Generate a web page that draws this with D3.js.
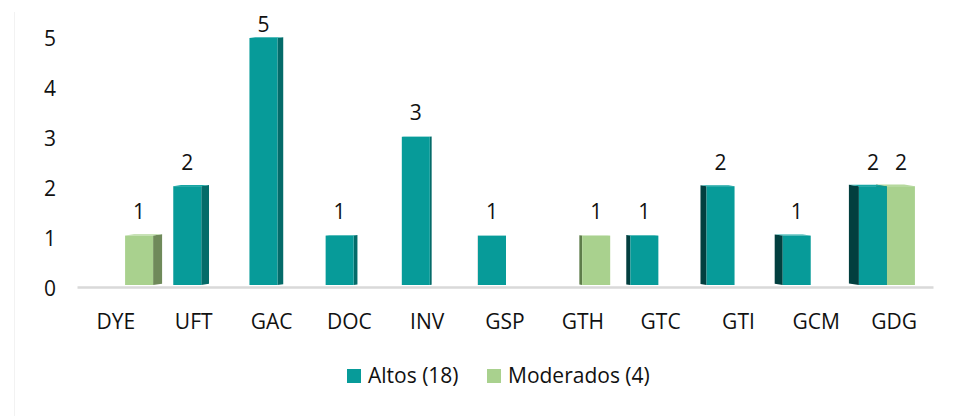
<!DOCTYPE html>
<html>
<head>
<meta charset="utf-8">
<script src="https://cdn.jsdelivr.net/npm/d3@7/dist/d3.min.js"></script>
<style>
  html, body { margin: 0; padding: 0; background: #fff; }
  #grafico { width: 967px; height: 416px; }
  text { font-family: "Open Sans", "Liberation Sans", sans-serif; fill: #111; }
</style>
</head>
<body>
<div id="grafico"></div>
<script>
const categorias = ["DYE", "UFT", "GAC", "DOC", "INV", "GSP", "GTH", "GTC", "GTI", "GCM", "GDG"];
const altos = [0, 2, 5, 1, 3, 1, 0, 1, 2, 1, 2];
const moderados = [1, 0, 0, 0, 0, 0, 1, 0, 0, 0, 2];
const series = ["Altos (18)", "Moderados (4)"];
const ticksY = [0, 1, 2, 3, 4, 5];

const colores = {
  "Altos (18)": { frente: "#079b99", der: "#046b69", izq: "#023f3f", tapa: "#17a6a4", leyenda: "#079b99" },
  "Moderados (4)": { frente: "#a9d18e", der: "#6f8a5a", izq: "#5e7c4a", tapa: "#b6d99e", leyenda: "#a9d18e" }
};

const width = 967, height = 416;
const svg = d3.select("#grafico").append("svg")
  .attr("width", width).attr("height", height)
  .attr("viewBox", `0 0 ${width} ${height}`);

// borde muy tenue del área
svg.append("line").attr("x1", 14.5).attr("x2", 14.5).attr("y1", 12).attr("y2", height)
  .attr("stroke", "#f2f2f2").attr("stroke-width", 1);

// eje de categorías (plano del suelo) y posición de barras (fondo, con perspectiva)
const xEje = d3.scaleBand().domain(categorias).range([77, 933]);
const xGrupo = d3.scaleBand().domain(categorias).range([87, 925]);
const xSerie = d3.scaleBand().domain(series).range([0, xGrupo.bandwidth()]).paddingOuter(0.36);
const y = d3.scaleLinear().domain([0, 5]).range([285, 38]);
const yEtiqueta = d3.scaleLinear().domain([0, 5]).range([289, 39]);
// profundidad visible de la cara lateral según la posición horizontal
const profundidad = d3.scaleLinear().domain([139, 873]).range([9, -10]);

const ejeX = svg.append("g").attr("transform", "translate(0,287)")
  .call(d3.axisBottom(xEje).tickSize(0).tickSizeOuter(0).tickPadding(27));
ejeX.select(".domain").attr("stroke", "#d9d9d9").attr("stroke-width", 2.5);
ejeX.selectAll("text").attr("font-size", 21).attr("fill", "#111").style("font-family", "'Open Sans', sans-serif");

const ejeY = svg.append("g").attr("transform", "translate(56,0)")
  .call(d3.axisLeft(yEtiqueta).tickValues(ticksY).tickSize(0).tickPadding(0).tickFormat(d3.format("d")));
ejeY.select(".domain").remove();
ejeY.selectAll("text").attr("font-size", 21).attr("fill", "#111").style("font-family", "'Open Sans', sans-serif");

const barras = [];
categorias.forEach((c, i) => {
  [altos[i], moderados[i]].forEach((v, j) => {
    if (v > 0) {
      const s = series[j];
      const x0 = xGrupo(c) + xSerie(s);
      const w = xSerie.bandwidth();
      barras.push({ c, s, v, x0, w, p: profundidad(x0 + w / 2) });
    }
  });
});
// las barras con más cara lateral se dibujan primero
barras.sort((a, b) => Math.abs(b.p) - Math.abs(a.p));

const gBarras = svg.append("g");
barras.forEach((b) => {
  const top = y(b.v), base = y(0);
  const d = Math.abs(b.p) * 0.15;
  const g = gBarras.append("g");
  const xb = b.p > 0 ? b.x0 + b.w : b.x0;
  g.append("polygon")
    .attr("points", [[xb, top], [xb + b.p, top - d], [xb + b.p, base - d], [xb, base]].map((p) => p.join(",")).join(" "))
    .attr("fill", b.p > 0 ? colores[b.s].der : colores[b.s].izq);
  g.append("polygon")
    .attr("points", [[b.x0, top], [b.x0 + b.p, top - d], [b.x0 + b.w + b.p, top - d], [b.x0 + b.w, top]].map((p) => p.join(",")).join(" "))
    .attr("fill", colores[b.s].tapa);
  g.append("rect").attr("x", b.x0).attr("y", top).attr("width", b.w).attr("height", base - top)
    .attr("fill", colores[b.s].frente);
});

svg.append("g").selectAll("text").data(barras).join("text")
  .attr("x", (b) => b.x0 + b.w / 2)
  .attr("y", (b) => Math.max(y(b.v) - 24, 25))
  .attr("dy", "0.35em")
  .attr("text-anchor", "middle")
  .attr("font-size", 21)
  .text((b) => b.v);

// leyenda
const posLeyenda = [347, 487];
const leyenda = svg.append("g").selectAll("g").data(series).join("g")
  .attr("transform", (d, i) => `translate(${posLeyenda[i]},369)`);
leyenda.append("rect").attr("width", 14).attr("height", 14).attr("fill", (d) => colores[d].leyenda);
leyenda.append("text").attr("x", 21).attr("y", 7).attr("dy", "0.35em").attr("font-size", 21).text((d) => d);
</script>
</body>
</html>
